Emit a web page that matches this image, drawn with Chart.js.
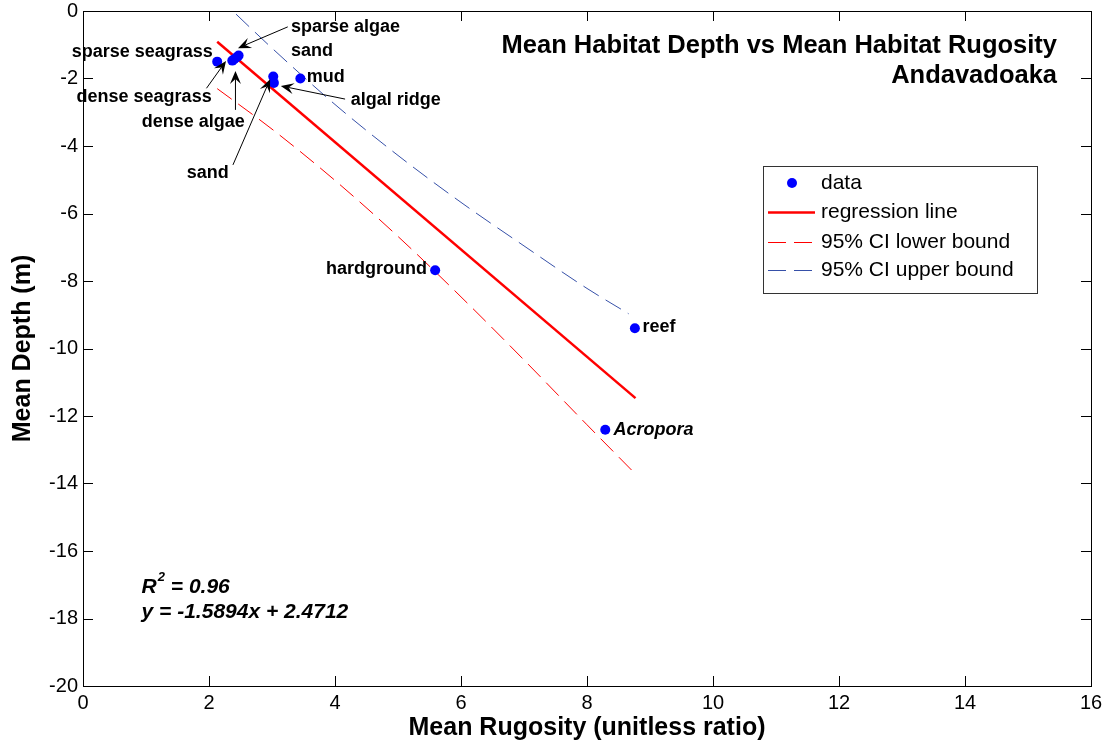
<!DOCTYPE html>
<html>
<head>
<meta charset="utf-8">
<script src="https://cdn.jsdelivr.net/npm/chart.js@4.4.1/dist/chart.umd.min.js"></script>
<style>
  html, body { margin: 0; padding: 0; background: #fff; }
  canvas { display: block; }
</style>
</head>
<body>
<canvas id="c" width="1109" height="742"></canvas>
<script>
// ---------------- data ----------------
const habitatNames = ['sparse seagrass', 'dense seagrass', 'dense algae', 'sparse algae', 'sand', 'sand', 'algal ridge', 'mud', 'hardground', 'reef', 'Acropora'];
const rugosity = [2.13, 2.37, 2.40, 2.47, 2.45, 3.02, 3.03, 3.45, 5.59, 8.76, 8.29];
const depth = [-1.50, -1.47, -1.43, -1.32, -1.36, -1.94, -2.13, -2.00, -7.68, -9.40, -12.41];

const regX = [2.13, 8.77];
const regY = [-0.91, -11.47];

const ciLowerX = [2.13, 3, 4, 5, 6, 7, 8, 8.77];
const ciLowerY = [-2.30, -3.50, -5.02, -6.68, -8.47, -10.34, -12.26, -13.72];
const ciUpperX = [2.13, 3, 4, 5, 6, 7, 8, 8.66];
const ciUpperY = [0.44, -1.10, -2.77, -4.28, -5.67, -6.96, -8.22, -8.97];

const xTicks = [0, 2, 4, 6, 8, 10, 12, 14, 16];
const yTicks = [0, -2, -4, -6, -8, -10, -12, -14, -16, -18, -20];

const titleLines = ['Mean Habitat Depth vs Mean Habitat Rugosity', 'Andavadoaka'];
const xLabel = 'Mean Rugosity (unitless ratio)';
const yLabel = 'Mean Depth (m)';
const statLines = ['R² = 0.96', 'y = -1.5894x + 2.4712'];

// label placements (data coordinates)
const labelSpecs = [
  { text: 'sparse seagrass', x: 2.06, y: -1.21, align: 'right' },
  { text: 'sparse algae', x: 3.30, y: -0.47, align: 'left' },
  { text: 'sand', x: 3.30, y: -1.19, align: 'left' },
  { text: 'mud', x: 3.55, y: -1.96, align: 'left' },
  { text: 'algal ridge', x: 4.25, y: -2.64, align: 'left' },
  { text: 'dense seagrass', x: 0.97, y: -2.54, align: 'center' },
  { text: 'dense algae', x: 1.75, y: -3.30, align: 'center' },
  { text: 'sand', x: 1.98, y: -4.79, align: 'center' },
  { text: 'hardground', x: 5.46, y: -7.65, align: 'right' },
  { text: 'reef', x: 8.88, y: -9.37, align: 'left' },
  { text: 'Acropora', x: 8.42, y: -12.41, align: 'left', italic: true }
];
const arrowSpecs = [
  { from: [3.25, -0.47], to: [2.46, -1.10] },
  { from: [4.16, -2.61], to: [3.14, -2.22] },
  { from: [1.96, -2.29], to: [2.27, -1.48] },
  { from: [2.42, -2.93], to: [2.42, -1.78] },
  { from: [2.38, -4.56], to: [2.97, -2.02] }
];

const FONT = "'Liberation Sans', Arial, Helvetica, sans-serif";

// ---------------- plugins ----------------
const frameTicks = {
  id: 'frameTicks',
  afterDraw(chart) {
    const { ctx, chartArea: a, scales: { x, y } } = chart;
    ctx.save();
    ctx.strokeStyle = '#000';
    ctx.lineWidth = 1;
    ctx.strokeRect(Math.round(a.left) + 0.5, Math.round(a.top) + 0.5, Math.round(a.right - a.left), Math.round(a.bottom - a.top));
    const L = 10;
    ctx.beginPath();
    xTicks.forEach(v => {
      const px = Math.round(x.getPixelForValue(v)) + 0.5;
      ctx.moveTo(px, a.bottom); ctx.lineTo(px, a.bottom - L);
      ctx.moveTo(px, a.top); ctx.lineTo(px, a.top + L);
    });
    yTicks.forEach(v => {
      const py = Math.round(y.getPixelForValue(v)) + 0.5;
      ctx.moveTo(a.left, py); ctx.lineTo(a.left + L, py);
      ctx.moveTo(a.right, py); ctx.lineTo(a.right - L, py);
    });
    ctx.stroke();
    ctx.restore();
  }
};

function drawArrow(ctx, x1, y1, x2, y2) {
  const ang = Math.atan2(y2 - y1, x2 - x1);
  const len = 13, hw = 5.5, notch = 8;
  ctx.beginPath();
  ctx.moveTo(x1, y1);
  ctx.lineTo(x2 - Math.cos(ang) * notch, y2 - Math.sin(ang) * notch);
  ctx.stroke();
  const bx = x2 - Math.cos(ang) * len, by = y2 - Math.sin(ang) * len;
  const nx = -Math.sin(ang), ny = Math.cos(ang);
  ctx.beginPath();
  ctx.moveTo(x2, y2);
  ctx.lineTo(bx + nx * hw, by + ny * hw);
  ctx.lineTo(x2 - Math.cos(ang) * notch, y2 - Math.sin(ang) * notch);
  ctx.lineTo(bx - nx * hw, by - ny * hw);
  ctx.closePath();
  ctx.fill();
}

const annotationsPlugin = {
  id: 'annots',
  afterDatasetsDraw(chart) {
    const { ctx, chartArea: a, scales: { x, y } } = chart;
    ctx.save();
    ctx.fillStyle = '#000';
    ctx.strokeStyle = '#000';
    ctx.lineWidth = 1;
    // title
    ctx.font = `bold 25.5px ${FONT}`;
    ctx.textAlign = 'right';
    ctx.textBaseline = 'middle';
    ctx.fillText(titleLines[0], 1057, 46);
    ctx.fillText(titleLines[1], 1057, 76);
    // labels
    ctx.textBaseline = 'middle';
    labelSpecs.forEach(l => {
      ctx.font = `${l.italic ? 'italic ' : ''}bold 18px ${FONT}`;
      ctx.textAlign = l.align;
      ctx.fillText(l.text, x.getPixelForValue(l.x), y.getPixelForValue(l.y));
    });
    // arrows
    arrowSpecs.forEach(s => {
      drawArrow(ctx, x.getPixelForValue(s.from[0]), y.getPixelForValue(s.from[1]),
        x.getPixelForValue(s.to[0]), y.getPixelForValue(s.to[1]));
    });
    // stats text
    ctx.font = `italic bold 21px ${FONT}`;
    ctx.textAlign = 'left';
    ctx.textBaseline = 'middle';
    const sx = x.getPixelForValue(0.93);
    const r = 'R', rest = ' = 0.96';
    ctx.fillText(r, sx, y.getPixelForValue(-17.06));
    const rw = ctx.measureText(r).width;
    ctx.font = `italic bold 13px ${FONT}`;
    ctx.fillText('2', sx + rw + 1, y.getPixelForValue(-17.06) - 9);
    const w2 = ctx.measureText('2').width;
    ctx.font = `italic bold 21px ${FONT}`;
    ctx.fillText(rest, sx + rw + w2 + 1, y.getPixelForValue(-17.06));
    ctx.fillText(statLines[1], sx, y.getPixelForValue(-17.80));
    ctx.restore();
  }
};

const legendPlugin = {
  id: 'customLegend',
  afterDraw(chart) {
    const { ctx } = chart;
    const bx = 763, by = 166, bw = 274, bh = 127;
    ctx.save();
    ctx.fillStyle = '#fff';
    ctx.fillRect(bx, by, bw, bh);
    ctx.strokeStyle = '#333';
    ctx.lineWidth = 1;
    ctx.strokeRect(bx + 0.5, by + 0.5, bw, bh);
    const rows = [183, 212, 242, 270];
    ctx.font = `21px ${FONT}`;
    ctx.textAlign = 'left';
    ctx.textBaseline = 'middle';
    chart.data.datasets.forEach((ds, i) => {
      const yy = rows[i];
      if (ds.showLine === false) {
        ctx.fillStyle = ds.backgroundColor;
        ctx.beginPath();
        ctx.arc(792, yy, 5, 0, Math.PI * 2);
        ctx.fill();
      } else {
        ctx.strokeStyle = ds.borderColor;
        ctx.lineWidth = ds.borderWidth;
        ctx.setLineDash(ds.borderDash || []);
        ctx.beginPath();
        ctx.moveTo(768, yy + 0.5);
        ctx.lineTo(815, yy + 0.5);
        ctx.stroke();
        ctx.setLineDash([]);
      }
      ctx.fillStyle = '#000';
      ctx.fillText(ds.label, 821, yy);
    });
    ctx.restore();
  }
};

// ---------------- chart ----------------
const pts = (xs, ys) => xs.map((v, i) => ({ x: v, y: ys[i] }));

new Chart(document.getElementById('c').getContext('2d'), {
  type: 'scatter',
  data: {
    datasets: [
      { label: 'data', data: pts(rugosity, depth), showLine: false,
        backgroundColor: '#0000ff', borderColor: '#0000ff', pointRadius: 5, borderWidth: 0 },
      { label: 'regression line', data: pts(regX, regY), showLine: true,
        borderColor: '#ff0000', backgroundColor: '#ff0000', borderWidth: 2.5, pointRadius: 0 },
      { label: '95% CI lower bound', data: pts(ciLowerX, ciLowerY), showLine: true,
        borderColor: '#ff0000', backgroundColor: '#ff0000', borderWidth: 1, borderDash: [18, 8],
        pointRadius: 0, cubicInterpolationMode: 'monotone' },
      { label: '95% CI upper bound', data: pts(ciUpperX, ciUpperY), showLine: true,
        borderColor: '#3650a8', backgroundColor: '#3650a8', borderWidth: 1, borderDash: [18, 8],
        pointRadius: 0, cubicInterpolationMode: 'monotone' }
    ]
  },
  options: {
    responsive: false,
    animation: false,
    layout: { padding: { top: 11, right: 18, left: 0, bottom: 0 } },
    plugins: { legend: { display: false }, tooltip: { enabled: false } },
    scales: {
      x: {
        type: 'linear', min: 0, max: 16,
        afterFit(s) { s.height = 56; s.paddingLeft = 0; s.paddingRight = 0; },
        afterBuildTicks(s) { s.ticks = xTicks.map(v => ({ value: v })); },
        grid: { display: false, drawTicks: false },
        border: { display: false },
        ticks: { color: '#000', padding: 5, font: { family: FONT, size: 20 } },
        title: { display: true, text: xLabel, color: '#000',
          font: { family: FONT, size: 25, weight: 'bold' }, padding: { top: 0, bottom: -1 } }
      },
      y: {
        type: 'linear', min: -20, max: 0,
        afterFit(s) { s.width = 83; s.paddingTop = 0; s.paddingBottom = 0; },
        afterBuildTicks(s) { s.ticks = yTicks.map(v => ({ value: v })); },
        grid: { display: false, drawTicks: false },
        border: { display: false },
        ticks: { color: '#000', padding: 5, font: { family: FONT, size: 20 } },
        title: { display: true, text: yLabel, color: '#000',
          font: { family: FONT, size: 25, weight: 'bold' }, padding: { top: 8, bottom: 0 } }
      }
    }
  },
  plugins: [frameTicks, annotationsPlugin, legendPlugin]
});
</script>
</body>
</html>
